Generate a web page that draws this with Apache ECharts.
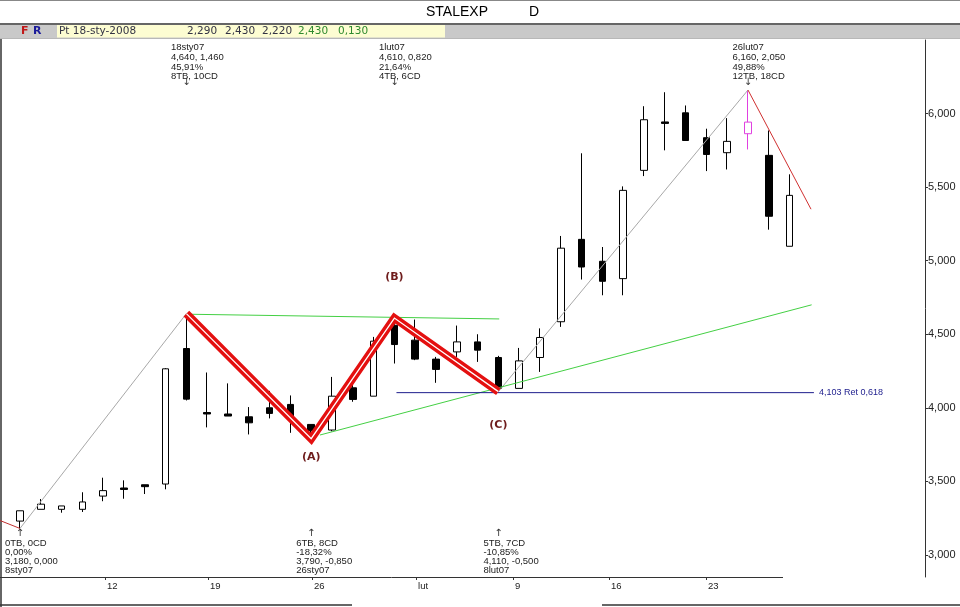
<!DOCTYPE html>
<html><head><meta charset="utf-8">
<script src="https://cdn.jsdelivr.net/npm/echarts@6/dist/echarts.min.js"></script>
<style>html,body{margin:0;padding:0;background:#fff}#c{width:960px;height:607px}</style>
</head><body><div id="c"></div>
<script>
// ---- data ----
const dates = ['2007-01-08','2007-01-09','2007-01-10','2007-01-11','2007-01-12',
  '2007-01-15','2007-01-16','2007-01-17','2007-01-18','2007-01-19',
  '2007-01-22','2007-01-23','2007-01-24','2007-01-25','2007-01-26',
  '2007-01-29','2007-01-30','2007-01-31','2007-02-01','2007-02-02',
  '2007-02-05','2007-02-06','2007-02-07','2007-02-08','2007-02-09',
  '2007-02-12','2007-02-13','2007-02-14','2007-02-15','2007-02-16',
  '2007-02-19','2007-02-20','2007-02-21','2007-02-22','2007-02-23',
  '2007-02-26','2007-02-27','2007-02-28'];
const opens  = [3.23,3.31,3.31,3.31,3.40,3.455,3.477,3.482,4.403,3.968,3.958,3.939,4.000,4.023,3.887,3.849,4.136,4.079,4.561,4.460,4.331,4.380,4.448,4.342,4.132,4.342,4.585,5.145,4.996,4.878,5.614,5.943,6.005,5.836,5.734,5.863,5.716,5.098];
const closes = [3.30,3.345,3.333,3.36,3.437,3.445,3.464,4.265,4.059,3.958,3.944,3.898,3.962,3.928,3.844,4.079,4.057,4.453,4.430,4.331,4.261,4.448,4.392,4.132,4.319,4.478,5.085,4.957,4.860,5.478,5.958,5.933,5.817,5.722,5.811,5.942,5.302,5.444];
const lows   = [3.18,3.31,3.287,3.292,3.365,3.382,3.414,3.446,4.050,3.867,3.944,3.819,3.928,3.830,3.790,3.840,4.041,4.079,4.301,4.324,4.170,4.346,4.312,4.110,4.132,4.244,4.550,4.872,4.765,4.765,5.575,5.750,5.817,5.609,5.620,5.756,5.211,5.098];
const highs  = [3.30,3.38,3.333,3.426,3.525,3.507,3.477,4.270,4.640,4.240,4.166,4.005,4.115,4.084,3.887,4.210,4.166,4.482,4.610,4.600,4.346,4.559,4.500,4.353,4.407,4.540,5.168,5.730,5.093,5.505,6.050,6.145,6.055,5.897,5.969,6.160,5.885,5.587];
const highlightIdx = 35;

const xTickPos = [4.09, 9.04, 14.04, 19.04, 23.7, 28.32, 32.98];
const xTickLabels = ['12','19','26','lut','9','16','23'];
const yTicks = [3.0, 3.5, 4.0, 4.5, 5.0, 5.5, 6.0];

// zigzag pivot points [index, value]
const zigPrev = [[-1, 3.236], [0, 3.18]];
const zigzag = [[0, 3.18], [8, 4.64], [14, 3.79], [18, 4.61], [23, 4.11], [35, 6.16]];
const zigNext = [[35, 6.16], [38.03, 5.35]];
const waveABC = [[8, 4.64], [14, 3.79], [18, 4.61], [23, 4.11]];
const greenUpper = [[8.14, 4.636], [23.04, 4.604]];
const greenLower = [[14.42, 3.815], [38.06, 4.70]];
const retLine = [[18.1, 4.103], [38.17, 4.103]];
const retLabel = '4,103 Ret 0,618';

const waveLabels = ['(A)', '(B)', '(C)'];
const wavePts = [[14, 3.79], [18, 4.61], [23, 4.11]];

const peakIdx = [8, 18, 35];
const peakText = [
  ['18sty07','4,640, 1,460','45,91%','8TB, 10CD'],
  ['1lut07','4,610, 0,820','21,64%','4TB, 6CD'],
  ['26lut07','6,160, 2,050','49,88%','12TB, 18CD']];
const troughIdx = [0, 14, 23];
const troughText = [
  ['0TB, 0CD','0,00%','3,180, 0,000','8sty07'],
  ['6TB, 8CD','-18,32%','3,790, -0,850','26sty07'],
  ['5TB, 7CD','-10,85%','4,110, -0,500','8lut07']];

const headerTitle = 'STALEXP';
const headerPeriod = 'D';
const infoDate = 'Pt 18-sty-2008';
const infoVals = ['2,290', '2,430', '2,220', '2,430', '0,130'];

// ---- chart ----
const chart = echarts.init(document.getElementById('c'), null, {renderer: 'canvas'});
const fmt = v => v.toFixed(3).replace('.', ',');
const SANS = '"Liberation Sans", Arial, sans-serif';

const candleData = dates.map((d, i) => {
  const item = {value: [i, opens[i], closes[i], lows[i], highs[i]]};
  if (i === highlightIdx) item.itemStyle = {color: '#fff', color0: '#fff', borderColor: '#e040e0', borderColor0: '#e040e0'};
  return item;
});

const lineS = (data, color, width, z) => ({type: 'line', data, symbol: 'none', silent: true, z,
  lineStyle: {color, width, join: 'miter', cap: 'butt'}, clip: true, animation: false});

const option = {
  animation: false,
  backgroundColor: '#fff',
  grid: {left: 1, right: 35, top: 40, bottom: 30},
  xAxis: {
    type: 'value', min: -0.913, max: 43.51,
    axisLine: {show: false, onZero: false}, splitLine: {show: false},
    axisTick: {show: true, customValues: xTickPos, length: 3, lineStyle: {color: '#333'}},
    axisLabel: {customValues: xTickPos, align: 'left', margin: 4, padding: [0, 0, 0, 2],
      fontSize: 9.5, fontFamily: SANS, color: '#222',
      formatter: v => { for (let k = 0; k < xTickPos.length; k++) if (Math.abs(xTickPos[k] - v) < 0.01) return xTickLabels[k]; return ''; }}
  },
  yAxis: {
    type: 'value', position: 'right', min: 2.85, max: 6.5, scale: true,
    axisLine: {show: true, onZero: false, lineStyle: {color: '#333', width: 1}},
    axisTick: {show: true, customValues: yTicks, length: 3, lineStyle: {color: '#333'}},
    axisLabel: {customValues: yTicks, margin: 3, fontSize: 11, fontFamily: SANS, color: '#222', formatter: v => fmt(v)},
    splitLine: {show: false}
  },
  series: [
    {type: 'candlestick', data: candleData, barWidth: 7, z: 2,
      itemStyle: {color: '#fff', color0: '#000', borderColor: '#000', borderColor0: '#000', borderWidth: 1}},
    lineS(zigzag, '#a8a8a8', 1, 3),
    lineS(zigPrev, '#c03030', 1, 3),
    lineS(zigNext, '#d03030', 1, 3),
    lineS(greenUpper, '#44d044', 1, 3),
    lineS(greenLower, '#44d044', 1, 3),
    lineS(retLine, '#1c1c8c', 1, 3),
    lineS(waveABC, '#e41010', 8, 4),
    lineS(waveABC, '#ffffff', 1.3, 5)
  ]
};
chart.setOption(option);

function staticGraphics() {
  const g = [];
  // header
  g.push({type: 'rect', shape: {x: 0, y: 0, width: 960, height: 24}, style: {fill: '#fff'}, silent: true});
  g.push({type: 'line', shape: {x1: 0, y1: 0.5, x2: 960, y2: 0.5}, style: {stroke: '#888', lineWidth: 1}, silent: true});
  g.push({type: 'line', shape: {x1: 0, y1: 24, x2: 960, y2: 24}, style: {stroke: '#333', lineWidth: 1.5}, silent: true});
  g.push({type: 'rect', shape: {x: 0, y: 25, width: 960, height: 13}, style: {fill: '#c9c9c9'}, silent: true});
  g.push({type: 'rect', shape: {x: 57, y: 25, width: 388, height: 12.5}, style: {fill: '#fdfdd2'}, silent: true});
  g.push({type: 'line', shape: {x1: 0, y1: 38.5, x2: 960, y2: 38.5}, style: {stroke: '#b8b8b8', lineWidth: 1}, silent: true});
  g.push({type: 'text', x: 426, y: 12.5, style: {text: headerTitle, font: '14px ' + SANS, fill: '#000', textVerticalAlign: 'middle'}});
  g.push({type: 'text', x: 529, y: 12.5, style: {text: headerPeriod, font: '14px ' + SANS, fill: '#000', textVerticalAlign: 'middle'}});
  g.push({type: 'text', x: 21, y: 31.5, style: {text: 'F', font: 'bold 11px "DejaVu Sans"', fill: '#c01818', textVerticalAlign: 'middle'}});
  g.push({type: 'text', x: 33, y: 31.5, style: {text: 'R', font: 'bold 11px "DejaVu Sans"', fill: '#1a1a9a', textVerticalAlign: 'middle'}});
  g.push({type: 'text', x: 59, y: 31.5, style: {text: infoDate, font: '10.5px "DejaVu Sans"', fill: '#334', textVerticalAlign: 'middle'}});
  const vx = [187, 225, 262, 298, 338];
  infoVals.forEach((t, i) => g.push({type: 'text', x: vx[i], y: 31.5,
    style: {text: t, font: '10.5px "DejaVu Sans"', fill: i >= 3 ? '#2e8a2e' : '#334', textVerticalAlign: 'middle'}}));
  // frame
  g.push({type: 'line', shape: {x1: 1, y1: 39, x2: 1, y2: 607}, style: {stroke: '#333', lineWidth: 1.5}, silent: true});
  g.push({type: 'line', shape: {x1: 0, y1: 577.5, x2: 783, y2: 577.5}, style: {stroke: '#333', lineWidth: 1}, silent: true});
  g.push({type: 'line', shape: {x1: 0, y1: 605, x2: 352, y2: 605}, style: {stroke: '#333', lineWidth: 1.5}, silent: true});
  g.push({type: 'line', shape: {x1: 602, y1: 605, x2: 960, y2: 605}, style: {stroke: '#333', lineWidth: 1.5}, silent: true});
  return g;
}

function dynamicGraphics() {
  const g = [];
  const px = (x, y) => chart.convertToPixel({gridIndex: 0}, [x, y]);
  const noteFont = '9.5px ' + SANS;
  peakIdx.forEach((idx, k) => {
    const p = px(idx, highs[idx]);
    g.push({type: 'text', x: p[0] - 15.5, y: 42.5, style: {text: peakText[k].join('\n'), font: noteFont, lineHeight: 9.8, fill: '#222', textVerticalAlign: 'top'}});
    g.push({type: 'text', x: p[0], y: 82, style: {text: '\u2193', font: '10px "DejaVu Sans"', fill: '#333', textAlign: 'center', textVerticalAlign: 'middle'}});
  });
  troughIdx.forEach((idx, k) => {
    const p = px(idx, lows[idx]);
    g.push({type: 'text', x: p[0] - 15, y: 539, style: {text: troughText[k].join('\n'), font: noteFont, lineHeight: 8.95, fill: '#222', textVerticalAlign: 'top'}});
    g.push({type: 'text', x: p[0], y: 533, style: {text: '\u2191', font: '10px "DejaVu Sans"', fill: '#333', textAlign: 'center', textVerticalAlign: 'middle'}});
  });
  const dy = [18, -41, 34];
  waveLabels.forEach((t, k) => {
    const p = px(wavePts[k][0], wavePts[k][1]);
    g.push({type: 'text', x: p[0], y: p[1] + dy[k], style: {text: t, font: 'bold 11px "DejaVu Sans"', fill: '#6e1c1c', textAlign: 'center', textVerticalAlign: 'middle'}});
  });
  const r = px(retLine[1][0], retLine[1][1]);
  g.push({type: 'text', x: r[0] + 5, y: r[1], style: {text: retLabel, font: '9px ' + SANS, fill: '#1c1c8c', textVerticalAlign: 'middle'}});
  return g;
}

chart.setOption({graphic: staticGraphics().concat(dynamicGraphics())});
</script>
</body></html>
